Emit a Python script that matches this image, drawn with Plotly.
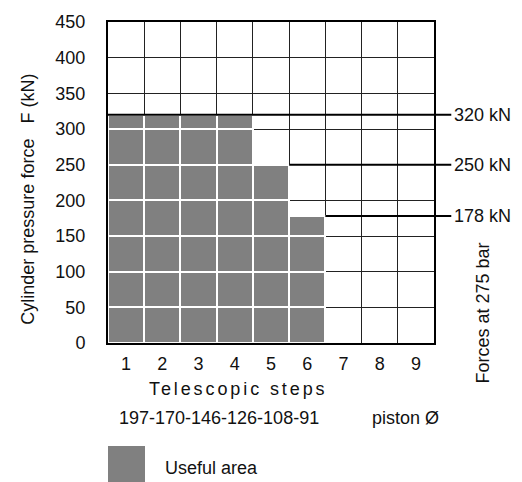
import plotly.graph_objects as go

# ---- data ----
steps = [1, 2, 3, 4, 5, 6, 7, 8, 9]
forces = [320, 320, 320, 320, 250, 178, 0, 0, 0]   # useful area (kN) per telescopic step
force_levels = [320, 250, 178]                     # forces at 275 bar
y_ticks = [0, 50, 100, 150, 200, 250, 300, 350, 400, 450]
piston_diameters = [197, 170, 146, 126, 108, 91]
cell = 50

FONT = "Liberation Sans, Arial, sans-serif"
GRAY = "#808080"

# split each bar into 50 kN cells so the white grid shows on the grey area
seg_x, seg_base, seg_h = [], [], []
for s, f in zip(steps, forces):
    b = 0
    while b < f:
        seg_x.append(s)
        seg_base.append(b)
        seg_h.append(min(cell, f - b))
        b += cell

fig = go.Figure()
fig.add_trace(go.Bar(
    x=seg_x, y=seg_h, base=seg_base, width=1,
    marker=dict(color=GRAY, line=dict(color="white", width=2)),
    showlegend=False, hoverinfo="skip",
))

x_lo, x_hi = steps[0] - 0.5, steps[-1] + 0.5
span = x_hi - x_lo
ext = 1.053  # lines run a little past the right frame

shapes = []
annotations = []
fmax = max(forces)
for lvl in force_levels:
    idx = [i for i, f in enumerate(forces) if f == lvl]
    if lvl == fmax:
        start = x_lo
    else:
        start = steps[idx[-1]] + 0.5
    shapes.append(dict(type="line", xref="paper", yref="y",
                       x0=(start - x_lo) / span, x1=ext, y0=lvl, y1=lvl,
                       line=dict(color="black", width=2), layer="above"))
    annotations.append(dict(xref="paper", yref="y", x=ext, y=lvl, xanchor="left",
                            yanchor="middle", text=f"{lvl} kN", showarrow=False,
                            font=dict(size=18, color="#111", family=FONT), xshift=1))

def px(x):
    return (x - 108) / 326.0

def py(y):
    return (343 - y) / 327.0

annotations += [
    dict(xref="paper", yref="paper", x=px(238), y=py(390), xanchor="center", yanchor="middle",
         text="<span style='letter-spacing:2.9px'>Telescopic steps</span>", showarrow=False,
         font=dict(size=18, color="#111", family=FONT)),
    dict(xref="paper", yref="paper", x=px(117), y=py(419), xanchor="left", yanchor="middle",
         text="-".join(str(d) for d in piston_diameters),
         showarrow=False, font=dict(size=18, color="#111", family=FONT)),
    dict(xref="paper", yref="paper", x=px(370), y=py(419), xanchor="left", yanchor="middle",
         text="piston Ø", showarrow=False, font=dict(size=18, color="#111", family=FONT)),
    dict(xref="paper", yref="paper", x=px(163), y=py(470), xanchor="left", yanchor="middle",
         text="Useful area", showarrow=False, font=dict(size=18, color="#111", family=FONT)),
    dict(xref="paper", yref="paper", x=px(483), y=py(313), xanchor="center", yanchor="middle",
         text="Forces at 275 bar", textangle=-90, showarrow=False,
         font=dict(size=18, color="#111", family=FONT)),
    dict(xref="paper", yref="paper", x=px(28), y=py(197), xanchor="center", yanchor="middle",
         text="Cylinder pressure force\u00a0\u00a0\u00a0F (kN)", textangle=-90, showarrow=False,
         font=dict(size=18, color="#111", family=FONT)),
]

# legend swatch
shapes.append(dict(type="rect", xref="paper", yref="paper",
                   x0=px(108), x1=px(145), y0=py(486), y1=py(448),
                   fillcolor=GRAY, line=dict(width=0)))

fig.update_layout(
    width=522, height=482,
    margin=dict(l=108, r=88, t=16, b=139),
    paper_bgcolor="white", plot_bgcolor="white",
    barmode="overlay", bargap=0,
    shapes=shapes, annotations=annotations,
    font=dict(family=FONT, size=18, color="#111"),
    xaxis=dict(range=[x_lo, x_hi], tickvals=steps, ticktext=[str(s) for s in steps],
               showgrid=False, zeroline=False, ticks="", ticklabelstandoff=3,
               showline=True, linecolor="black", linewidth=2, mirror=True,
               minor=dict(tickvals=[s + 0.5 for s in steps[:-1]], showgrid=True,
                          gridcolor="#222", gridwidth=1, ticks=""),
               fixedrange=True),
    yaxis=dict(range=[0, 450], tickvals=y_ticks, showgrid=True, gridcolor="#222", gridwidth=1,
               zeroline=False, ticks="", ticklabelstandoff=17,
               showline=True, linecolor="black", linewidth=2, mirror=True, fixedrange=True),
    showlegend=False,
)

fig.write_html("out.html", config={"displayModeBar": False},
               post_script="document.body.style.margin='0';document.body.style.overflow='hidden';")
